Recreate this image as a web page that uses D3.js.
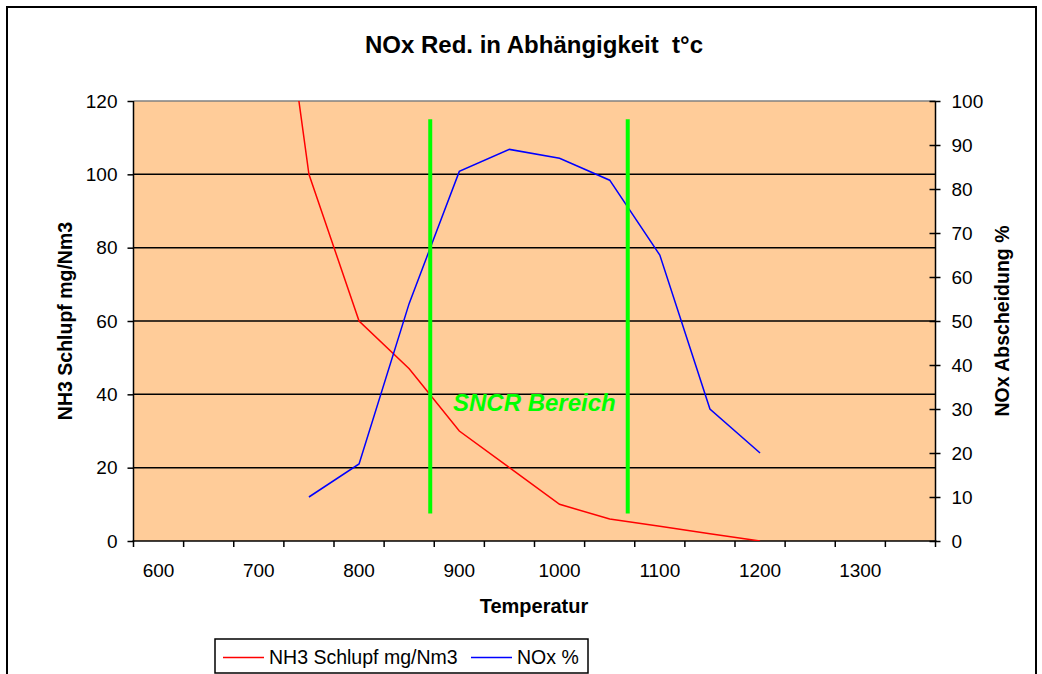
<!DOCTYPE html>
<html>
<head>
<meta charset="utf-8">
<script src="https://cdn.jsdelivr.net/npm/d3@7"></script>
<style>
body{margin:0;background:#fff;}
svg{display:block;font-family:Arial,"Liberation Sans",sans-serif;}
</style>
</head>
<body>
<svg id="chart" width="1042" height="674"></svg>
<script>
// categories on the x axis (Excel category axis, every 2nd label shown)
var temps = [600,650,700,750,800,850,900,950,1000,1050,1100,1150,1200,1250,1300,1350];
var xLabels = [600,700,800,900,1000,1100,1200,1300];

// NH3 slip (left axis), point at 700 runs off the top of the plot
var nh3Temps = [700,750,800,850,900,950,1000,1050,1100,1150,1200];
var nh3Values = [200,100,60,47,30,20,10,6,4,2,0];

// NOx reduction (right axis)
var noxTemps = [750,800,850,900,950,1000,1050,1100,1150,1200];
var noxValues = [10,17.5,54,84,89,87,82,65,30,20];

var leftTicks = [0,20,40,60,80,100,120];
var rightTicks = [0,10,20,30,40,50,60,70,80,90,100];

// SNCR window markers (temperature, left-axis span)
var sncrTemps = [871,1068];
var sncrSpan = [7.5,115];

var svg = d3.select('#chart'),
	pLeft = 133.5, pRight = 935.5, pTop = 101, pBottom = 541;

var x = d3.scaleBand().domain(temps).range([pLeft, pRight]),
	xt = d3.scaleLinear().domain([temps[0], temps[temps.length-1]])
		.range([x(temps[0]) + x.bandwidth()/2, x(temps[temps.length-1]) + x.bandwidth()/2]),
	yL = d3.scaleLinear().domain([0,120]).range([pBottom, pTop]),
	yR = d3.scaleLinear().domain([0,100]).range([pBottom, pTop]);

// chart area border
svg.append('rect').attr('x',7).attr('y',7).attr('width',1029).attr('height',720)
	.style('fill','#fff').style('stroke','#000').style('stroke-width',2);

svg.append('text').attr('x',534).attr('y',53).attr('text-anchor','middle')
	.style('font-size','24px').style('font-weight','bold').style('white-space','pre')
	.text('NOx Red. in Abhängigkeit  t°c');

// plot area
svg.append('rect').attr('x',pLeft).attr('y',pTop).attr('width',pRight-pLeft).attr('height',pBottom-pTop)
	.style('fill','#FFCC99');

svg.append('clipPath').attr('id','plotclip').append('rect')
	.attr('x',pLeft).attr('y',pTop).attr('width',pRight-pLeft).attr('height',pBottom-pTop);

svg.selectAll('line.grid').data(leftTicks.filter(function(d){ return d > 0; })).enter()
	.append('line').attr('class','grid')
	.attr('x1',pLeft).attr('x2',pRight)
	.attr('y1',function(d){ return yL(d); }).attr('y2',function(d){ return yL(d); })
	.style('stroke',function(d){ return d == 120 ? '#808080' : '#000'; })
	.style('stroke-width',1.5);

// left axis
var gl = svg.append('g').attr('transform','translate(' + pLeft + ',0)')
	.call(d3.axisLeft(yL).tickValues(leftTicks).tickSize(6).tickPadding(10));
gl.select('.domain').remove();
gl.append('line').attr('y1',pTop).attr('y2',pBottom+1).style('stroke','#000').style('stroke-width',1.5);
gl.selectAll('.tick line').style('stroke-width',1.5);
gl.selectAll('.tick text').style('font-size','19px').style('fill','#000')
	.style('font-family','Arial,"Liberation Sans",sans-serif');

// right axis with cross ticks
var gr = svg.append('g').attr('transform','translate(' + pRight + ',0)')
	.call(d3.axisRight(yR).tickValues(rightTicks).tickSize(5).tickPadding(11));
gr.select('.domain').remove();
gr.append('line').attr('y1',pTop).attr('y2',pBottom+1).style('stroke','#000').style('stroke-width',1.5);
gr.selectAll('.tick line').attr('x1',-6).style('stroke-width',1.5);
gr.selectAll('.tick text').style('font-size','19px').style('fill','#000')
	.style('font-family','Arial,"Liberation Sans",sans-serif');

// bottom axis: ticks on category boundaries, labels between them
var gb = svg.append('g');
gb.append('line').attr('x1',pLeft-1).attr('x2',pRight+1).attr('y1',pBottom).attr('y2',pBottom)
	.style('stroke','#000').style('stroke-width',1.5);
gb.selectAll('line.tk').data(temps.concat(['end'])).enter().append('line').attr('class','tk')
	.attr('x1',function(d){ return d == 'end' ? pRight : x(d); })
	.attr('x2',function(d){ return d == 'end' ? pRight : x(d); })
	.attr('y1',pBottom).attr('y2',pBottom+6)
	.style('stroke','#000').style('stroke-width',1.5);
gb.selectAll('text').data(xLabels).enter().append('text')
	.attr('x',function(d){ return x(d) + x.bandwidth()/2; }).attr('y',577)
	.attr('text-anchor','middle').style('font-size','19px').text(function(d){ return d; });

// axis titles
svg.append('text').attr('x',534).attr('y',613).attr('text-anchor','middle')
	.style('font-size','20px').style('font-weight','bold').text('Temperatur');
svg.append('text').attr('transform','translate(72,' + (pTop+pBottom)/2 + ')rotate(-90)')
	.attr('text-anchor','middle').style('font-size','19.5px').style('font-weight','bold')
	.text('NH3 Schlupf mg/Nm3');
svg.append('text').attr('transform','translate(1009,' + (pTop+pBottom)/2 + ')rotate(-90)')
	.attr('text-anchor','middle').style('font-size','19.5px').style('font-weight','bold')
	.text('NOx Abscheidung %');

// series
var plot = svg.append('g').attr('clip-path','url(#plotclip)');
var lineL = d3.line().x(function(d){ return x(d[0]) + x.bandwidth()/2; }).y(function(d){ return yL(d[1]); }),
	lineR = d3.line().x(function(d){ return x(d[0]) + x.bandwidth()/2; }).y(function(d){ return yR(d[1]); });

plot.append('path').datum(d3.zip(nh3Temps, nh3Values)).attr('d', lineL)
	.style('fill','none').style('stroke','#FF0000').style('stroke-width',1.5);
plot.append('path').datum(d3.zip(noxTemps, noxValues)).attr('d', lineR)
	.style('fill','none').style('stroke','#0000FF').style('stroke-width',1.5);

// SNCR markers
svg.selectAll('line.sncr').data(sncrTemps).enter().append('line').attr('class','sncr')
	.attr('x1',function(d){ return xt(d); }).attr('x2',function(d){ return xt(d); })
	.attr('y1',yL(sncrSpan[1])).attr('y2',yL(sncrSpan[0]))
	.style('stroke','#00FF00').style('stroke-width',4);
svg.append('text').attr('x',453).attr('y',411)
	.style('font-size','24px').style('font-weight','bold').style('font-style','italic')
	.style('fill','#00FF00').text('SNCR Bereich');

// legend
var lg = svg.append('g');
lg.append('rect').attr('x',215).attr('y',639).attr('width',373).attr('height',34)
	.style('fill','#fff').style('stroke','#000').style('stroke-width',1.5);
var items = [
	{name:'NH3 Schlupf mg/Nm3', color:'#FF0000', x0:223, tx:269},
	{name:'NOx %', color:'#0000FF', x0:471, tx:517}
];
lg.selectAll('line').data(items).enter().append('line')
	.attr('x1',function(d){ return d.x0; }).attr('x2',function(d){ return d.x0 + 41; })
	.attr('y1',657.5).attr('y2',657.5)
	.style('stroke',function(d){ return d.color; }).style('stroke-width',1.5);
lg.selectAll('text').data(items).enter().append('text')
	.attr('x',function(d){ return d.tx; }).attr('y',664)
	.style('font-size','19.5px').text(function(d){ return d.name; });
</script>
</body>
</html>
